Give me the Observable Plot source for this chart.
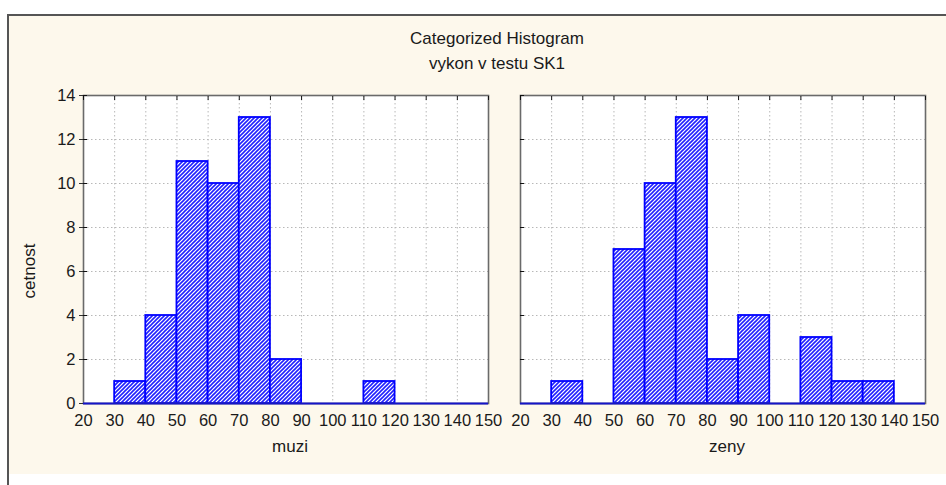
<!DOCTYPE html>
<html>
<head>
<meta charset="utf-8">
<script src="https://cdn.jsdelivr.net/npm/d3@7"></script>
<script src="https://cdn.jsdelivr.net/npm/@observablehq/plot@0.6"></script>
<style>
  html, body { margin: 0; padding: 0; background: #ffffff; }
  #page { position: relative; width: 946px; height: 485px; overflow: hidden; font-family: "Liberation Sans", Arial, sans-serif; color: #1a1a1a; }
  #panel { position: absolute; left: 7px; top: 14px; right: 0; height: 458px; background: #fdf8ec; border-top: 2px solid #555; border-left: 2px solid #555; }
  #edge { position: absolute; left: 7px; top: 472px; width: 2px; height: 13px; background: #555; }
  .title { position: absolute; left: 397px; width: 200px; text-align: center; font-size: 17px; white-space: nowrap; }
  #ylabel { position: absolute; left: 30px; top: 271px; font-size: 17px; transform: translate(-50%, -50%) rotate(-90deg); white-space: nowrap; }
  #chart { position: absolute; left: 0; top: 0; }
</style>
</head>
<body>
<div id="page">
  <div id="panel"></div>
  <div id="edge"></div>
  <div class="title" style="top:29px">Categorized Histogram</div>
  <div class="title" style="top:54px">vykon v testu SK1</div>
  <div id="ylabel">cetnost</div>
  <div id="chart"></div>
</div>
<script>
// Bin lower edges (bin width 10) and counts per group
const binStarts = [30, 40, 50, 60, 70, 80, 90, 100, 110, 120, 130];
const muziCounts = [1, 4, 11, 10, 13, 2, 0, 0, 1, 0, 0];
const zenyCounts = [1, 0, 7, 10, 13, 2, 4, 0, 3, 1, 1];
const groups = ["muzi", "zeny"];
const xTicks = [20, 30, 40, 50, 60, 70, 80, 90, 100, 110, 120, 130, 140, 150];
const yTicks = [0, 2, 4, 6, 8, 10, 12, 14];
const binWidth = 10;

const bins = [];
binStarts.forEach((x, i) => {
  if (muziCounts[i] > 0) bins.push({group: "muzi", x1: x, x2: x + binWidth, count: muziCounts[i]});
  if (zenyCounts[i] > 0) bins.push({group: "zeny", x1: x, x2: x + binWidth, count: zenyCounts[i]});
});

const blue = "#0000ff";
const gridStyle = {stroke: "#b8b8b8", strokeOpacity: 1, strokeDasharray: "1.5,2.5", strokeWidth: 1};

const chart = Plot.plot({
  width: 946,
  height: 485,
  marginLeft: 83,
  marginRight: 21,
  marginTop: 95,
  marginBottom: 82,
  style: {background: "transparent", fontFamily: "'Liberation Sans', Arial, sans-serif", fontSize: "16.5px", color: "#1a1a1a"},
  fx: {domain: groups, paddingInner: 0.0732, paddingOuter: 0, round: false, axis: null},
  x: {domain: [20, 150]},
  y: {domain: [0, 14]},
  marks: [
    Plot.frame({fill: "white", stroke: null}),
    Plot.gridX({ticks: xTicks.slice(1, -1), ...gridStyle}),
    Plot.gridY({ticks: yTicks.slice(1, -1), ...gridStyle}),
    Plot.rectY(bins, {fx: "group", x1: "x1", x2: "x2", y: "count", fill: "url(#hatch)", stroke: blue, strokeWidth: 1.8}),
    Plot.frame({stroke: "#6a6a6a", strokeWidth: 1.6}),
    Plot.ruleY([0], {stroke: "#1414c8", strokeWidth: 2}),
    Plot.axisX({ticks: xTicks, tickSize: 0, tickPadding: 11, fontSize: 16.5, label: null}),
    Plot.axisX({anchor: "top", ticks: xTicks, tickSize: -4, text: null, label: null, stroke: "#111", facetAnchor: "top"}),
    Plot.axisY({ticks: yTicks, tickSize: 4, tickPadding: 4, fontSize: 16.5, label: null, stroke: "#333"}),
    Plot.axisY({anchor: "left", ticks: yTicks.slice(1), tickSize: -4, text: null, label: null, stroke: "#111", facetAnchor: null}),
    Plot.text(groups, {fx: d => d, text: d => d, frameAnchor: "bottom", lineAnchor: "middle", dy: 43, dx: 4, fontSize: 17, fill: "#1a1a1a"})
  ]
});

// Diagonal hatch used to fill the histogram bars
const defs = d3.select(chart).insert("defs", ":first-child");
const pat = defs.append("pattern")
  .attr("id", "hatch")
  .attr("patternUnits", "userSpaceOnUse")
  .attr("width", 4)
  .attr("height", 4);
pat.append("rect").attr("width", 4).attr("height", 4).attr("fill", "#ffffff");
pat.append("path")
  .attr("d", "M-1,1 l2,-2 M0,4 l4,-4 M3,5 l2,-2")
  .attr("stroke", "#2020ff")
  .attr("stroke-width", 1.6);

document.getElementById("chart").append(chart);
</script>
</body>
</html>
